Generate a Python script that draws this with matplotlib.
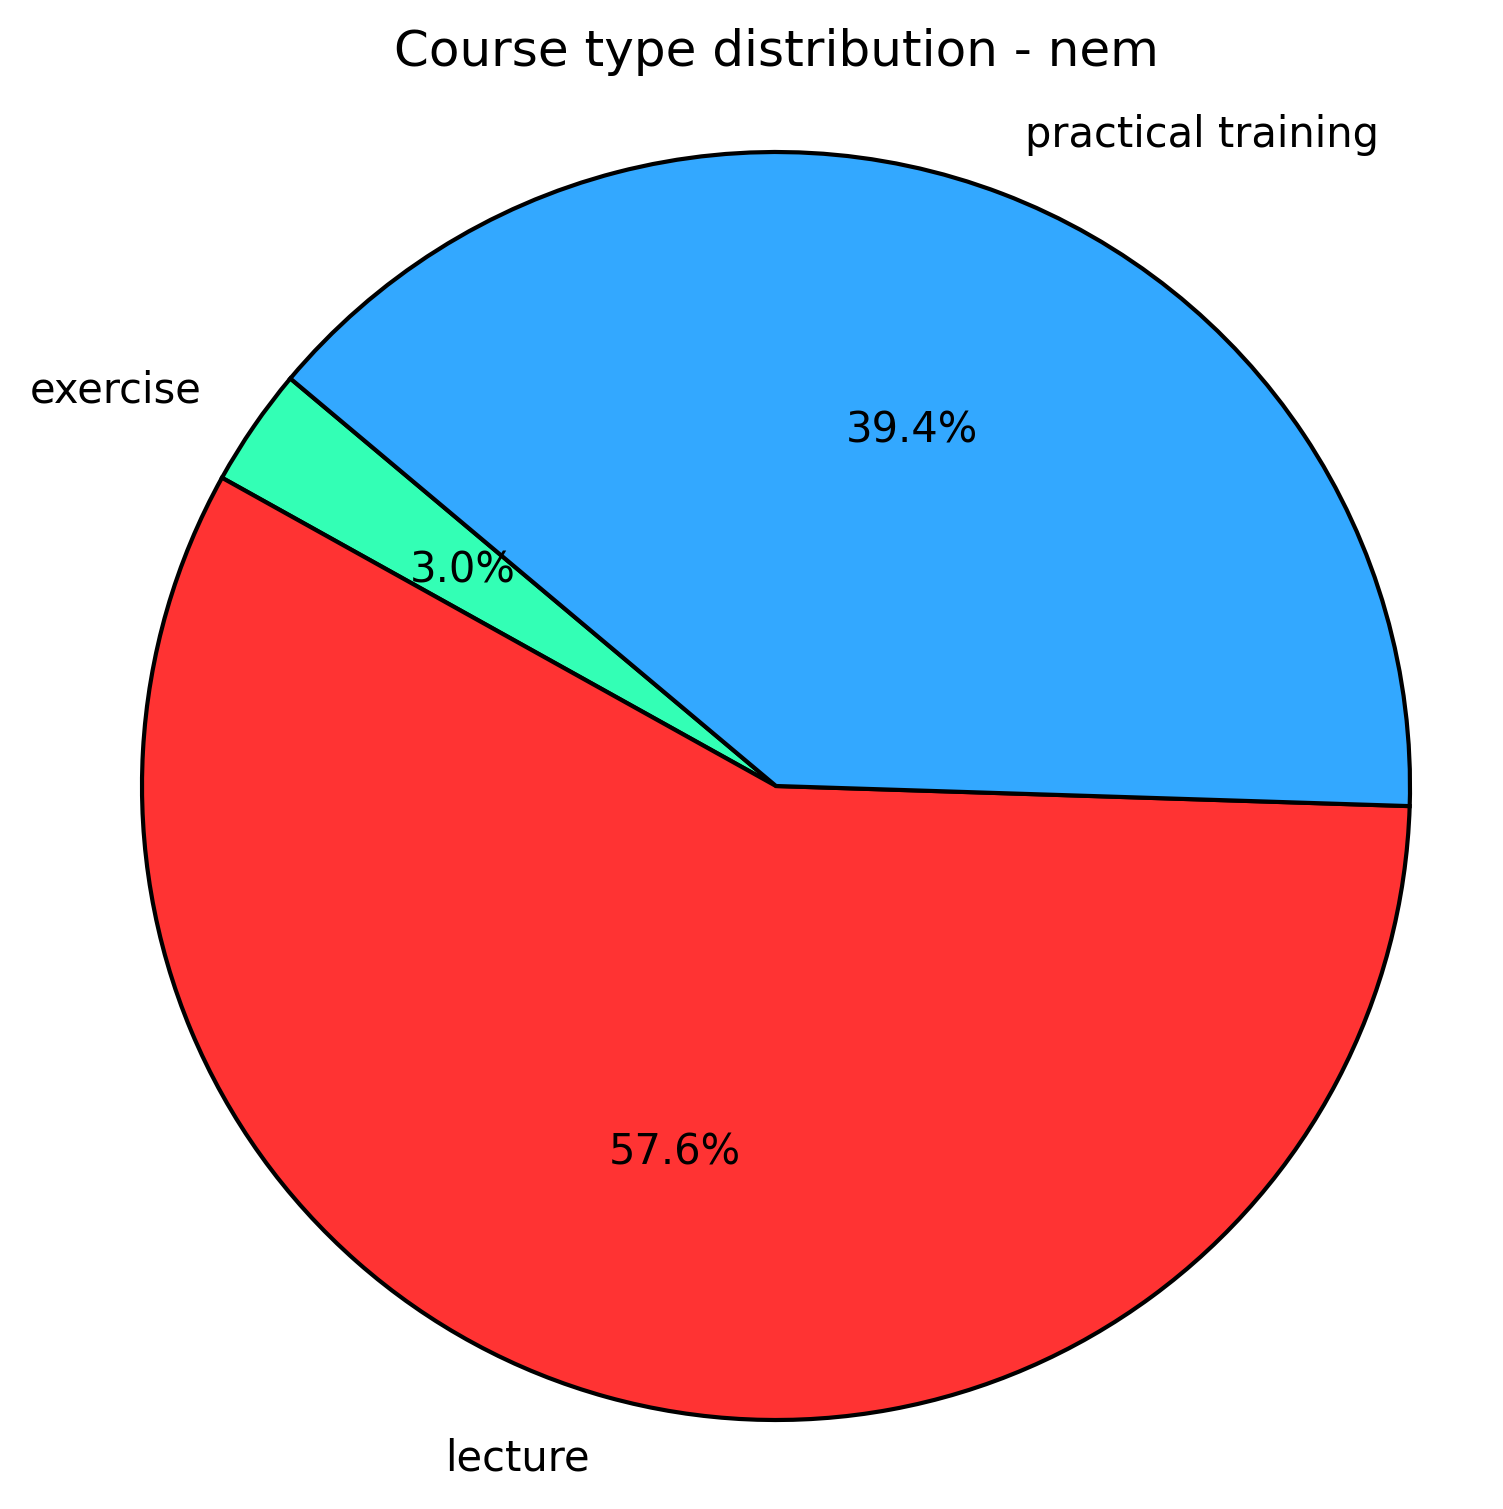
import matplotlib
matplotlib.use("Agg")
import matplotlib.pyplot as plt

# course counts (alphabetical order)
course_types = ["exercise", "lecture", "practical training"]
counts = [1, 19, 13]
colors = ["#33ffb5", "#ff3333", "#33a8ff"]
title = "Course type distribution - nem"

W, H, DPI = 1503, 1509, 300
fig = plt.figure(figsize=(W / DPI, H / DPI), dpi=DPI)

# pie centre and radius in pixels
cx, cy, r = 776, 786, 634
ax = fig.add_axes([(cx - r) / W, (H - cy - r) / H, 2 * r / W, 2 * r / H])

ax.pie(counts, labels=course_types, colors=colors, autopct="%1.1f%%",
       startangle=140, wedgeprops={"edgecolor": "black", "linewidth": 1})
ax.set_xlim(-1, 1)
ax.set_ylim(-1, 1)
ax.set_aspect("equal")
ax.axis("off")

fig.text(cx / W, 1 - 52 / H, title, ha="center", va="center", fontsize=12)

fig.savefig("out.png", dpi=DPI)
